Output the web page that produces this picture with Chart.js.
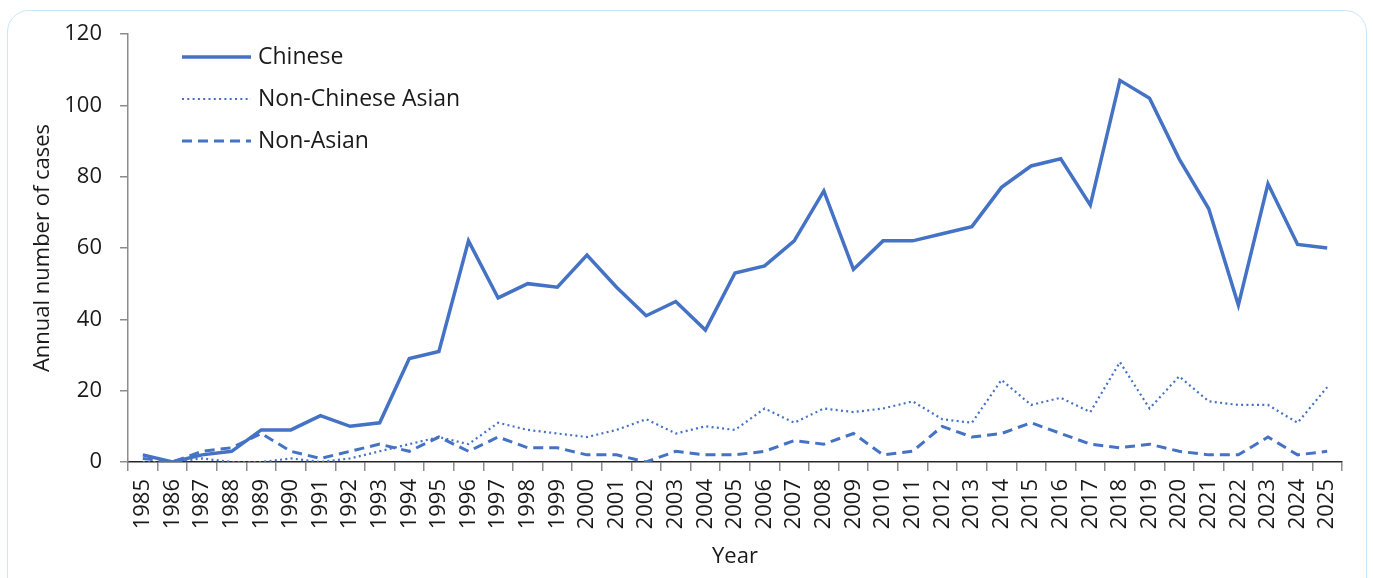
<!DOCTYPE html>
<html>
<head>
<meta charset="utf-8">
<script src="https://cdn.jsdelivr.net/npm/chart.js@4"></script>
<style>
  html, body { margin: 0; padding: 0; background: #fff; overflow: hidden; }
  #wrap { position: relative; width: 1373px; height: 578px; }
  #frame {
    position: absolute; left: 7px; top: 10px; right: 6px; bottom: -30px;
    border: 1.5px solid #c9e7f7; border-radius: 22px;
  }
  canvas { position: absolute; left: 0; top: 0; }
</style>
</head>
<body>
<div id="wrap">
  <div id="frame"></div>
  <canvas id="cases-chart" width="1373" height="578"></canvas>
</div>
<script>
const years = [];
for (let y = 1985; y <= 2025; y++) years.push(String(y));

// values
const chinese = [2, 0, 2, 3, 9, 9, 13, 10, 11, 29, 31, 62, 46, 50, 49, 58, 49, 41, 45, 37,
  53, 55, 62, 76, 54, 62, 62, 64, 66, 77, 83, 85, 72, 107, 102, 85, 71, 44, 78, 61, 60];
const nonChineseAsian = [0, 0, 1, 0, 0, 1, 0, 1, 3, 5, 7, 5, 11, 9, 8, 7, 9, 12, 8, 10,
  9, 15, 11, 15, 14, 15, 17, 12, 11, 23, 16, 18, 14, 28, 15, 24, 17, 16, 16, 11, 21];
const nonAsian = [1, 0, 3, 4, 8, 3, 1, 3, 5, 3, 7, 3, 7, 4, 4, 2, 2, 0, 3, 2,
  2, 3, 6, 5, 8, 2, 3, 10, 7, 8, 11, 8, 5, 4, 5, 3, 2, 2, 7, 2, 3];
const yTicks = [0, 20, 40, 60, 80, 100, 120];

const blue = '#4472c4';
const fontFamily = '"Open Sans", "Noto Sans", sans-serif';

// legend drawn inside the plot, top left
const innerLegend = {
  id: 'innerLegend',
  afterDraw(chart) {
    const ctx = chart.ctx;
    const x0 = 182, x1 = 251, textX = 258;
    const rows = [57, 99, 141];
    ctx.save();
    chart.data.datasets.forEach((ds, i) => {
      const y = rows[i];
      ctx.beginPath();
      ctx.strokeStyle = ds.borderColor;
      ctx.lineWidth = ds.borderWidth;
      ctx.setLineDash(ds.borderDash || []);
      ctx.moveTo(x0, y);
      ctx.lineTo(x1, y);
      ctx.stroke();
      ctx.setLineDash([]);
      ctx.fillStyle = '#1a1a1a';
      ctx.font = '23px ' + fontFamily;
      ctx.textBaseline = 'middle';
      ctx.fillText(ds.label, textX, y);
    });
    ctx.restore();
  }
};

new Chart(document.getElementById('cases-chart'), {
  type: 'line',
  data: {
    labels: years,
    datasets: [
      { label: 'Chinese', data: chinese, borderColor: blue, borderWidth: 3.5, pointRadius: 0, tension: 0 },
      { label: 'Non-Chinese Asian', data: nonChineseAsian, borderColor: blue, borderWidth: 2.2,
        borderDash: [2, 3.3], pointRadius: 0, tension: 0 },
      { label: 'Non-Asian', data: nonAsian, borderColor: blue, borderWidth: 3,
        borderDash: [10, 6], pointRadius: 0, tension: 0 }
    ]
  },
  options: {
    responsive: false,
    animation: false,
    layout: { padding: { top: 34, right: 31, left: 0, bottom: 0 } },
    plugins: { legend: { display: false }, tooltip: { enabled: false } },
    scales: {
      x: {
        type: 'category',
        offset: true,
        grid: { display: true, offset: true, drawOnChartArea: false, drawTicks: true,
          tickLength: 9, color: '#8c8c8c', lineWidth: 1.5 },
        border: { display: true, color: '#262626', width: 1.5 },
        ticks: { autoSkip: false, minRotation: 90, maxRotation: 90, padding: 8,
          color: '#1a1a1a', font: { family: fontFamily, size: 22 } },
        title: { display: true, text: 'Year', color: '#1a1a1a', padding: { top: 4, bottom: 8 },
          font: { family: fontFamily, size: 22 } },
        afterFit(scale) { scale.height = 116; }
      },
      y: {
        min: 0, max: 120,
        afterBuildTicks(scale) { scale.ticks = yTicks.map(v => ({ value: v })); },
        grid: { display: true, drawOnChartArea: false, drawTicks: true, tickLength: 8,
          color: '#8c8c8c', lineWidth: 1.5 },
        border: { display: true, color: '#8c8c8c', width: 1.5 },
        ticks: { padding: 18, color: '#1a1a1a', font: { family: fontFamily, size: 22 } },
        title: { display: true, text: 'Annual number of cases', color: '#1a1a1a',
          padding: { top: 30, bottom: 0 }, font: { family: fontFamily, size: 22 } },
        afterFit(scale) { scale.width = 128; }
      }
    }
  },
  plugins: [innerLegend]
});
</script>
</body>
</html>
